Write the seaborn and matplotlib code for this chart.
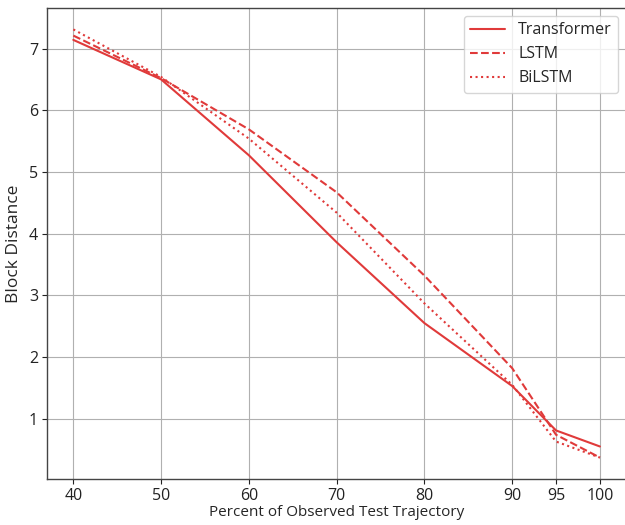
import pandas as pd
import numpy as np
import matplotlib
matplotlib.use("Agg")
import matplotlib.pyplot as plt
import seaborn as sns

percent = [40, 50, 60, 70, 80, 90, 95, 100]
transformer = [7.14, 6.50, 5.27, 3.86, 2.55, 1.53, 0.81, 0.55]
lstm = [7.21, 6.52, 5.69, 4.67, 3.32, 1.82, 0.74, 0.37]
bilstm = [7.31, 6.54, 5.54, 4.34, 2.87, 1.55, 0.63, 0.37]
models = ["Transformer", "LSTM", "BiLSTM"]

df = pd.DataFrame({
    "percent": percent * 3,
    "dist": transformer + lstm + bilstm,
    "model": np.repeat(models, len(percent)),
})

sns.set_style("ticks")
plt.rcParams["font.family"] = ["Open Sans", "DejaVu Sans"]

fig, ax = plt.subplots(figsize=(6.25, 5.25), dpi=100)
fig.subplots_adjust(left=47/625, right=1.002, top=1-8/525, bottom=1-479/525)

red = "#e03a3a"
sns.lineplot(data=df, x="percent", y="dist", style="model", style_order=models,
             dashes={"Transformer": "", "LSTM": (3.7, 1.6), "BiLSTM": (1, 1.65)},
             color=red, linewidth=1.5, ax=ax)

ax.set_xticks(percent)
ax.set_yticks([1, 2, 3, 4, 5, 6, 7])
ax.grid(True, color="#b0b0b0", linewidth=0.8)
ax.tick_params(labelsize=11.5, colors="#222222", pad=3)
for s in ax.spines.values():
    s.set_color("#444444")
    s.set_linewidth(1.0)
ax.set_xlabel("Percent of Observed Test Trajectory", fontsize=11, labelpad=1)
ax.set_ylabel("Block Distance", fontsize=12.5, labelpad=5)
ax.legend(title=None, fontsize=11.5, loc="upper right", handlelength=2.2,
          handletextpad=0.8, framealpha=0.8)

fig.savefig("out.png", dpi=100)
